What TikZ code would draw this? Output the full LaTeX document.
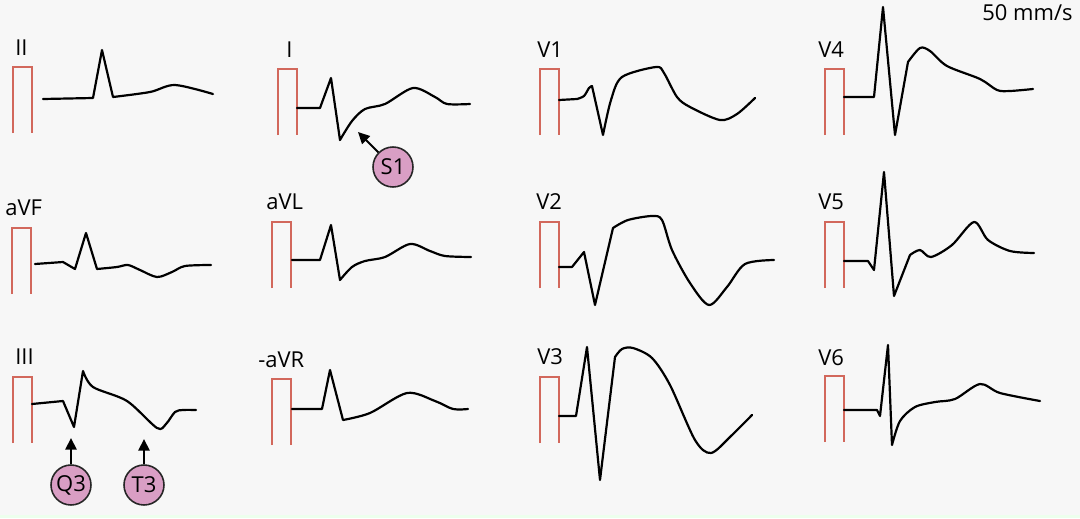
\documentclass[tikz,border=0pt]{standalone}
\usepackage{fontspec}
\setmainfont{Open Sans}
\usetikzlibrary{arrows.meta,positioning}
\definecolor{paper}{HTML}{F7F7F7}
\definecolor{calred}{HTML}{D2685C}
\definecolor{mauve}{HTML}{D99EC4}

\begin{document}
\begin{tikzpicture}[x=0.02cm,y=-0.02cm,
  lead/.style={anchor=base west,inner sep=0pt,font=\fontsize{12.5}{14}\selectfont},
  calbox/.style={calred,line width=0.8pt},
  trace/.style={black,line width=1.25pt,line join=round,line cap=round},
  callout/.style={circle,draw=black!85,line width=0.9pt,fill=mauve,minimum size=0.8cm,inner sep=0pt,font=\fontsize{12.5}{14}\selectfont},
  pointer/.style={-{Triangle[length=2.3mm,width=2.2mm]},line width=1.2pt}]
\fill[paper] (0,0) rectangle (1080,518);
\useasboundingbox (0,0) rectangle (1080,518);
\fill[green!7] (0,515) rectangle (1080,518);
% lead names
\node[lead] (labII)  at (15,55)   {II};
\node[lead] (labI)   at (286,57)  {I};
\node[lead] (labaVF) at (5,215)   {aVF};
\node[lead] (labaVL) at (266,209) {aVL};
\node[lead] (labIII) at (15,364)  {III};
\node[lead] (labaVR) at (258,367) {-aVR};
\node[lead] (labVa)  at (537,57)  {V1};
\node[lead] (labVb)  at (536,209) {V2};
\node[lead] (labVc)  at (537,364) {V3};
\node[lead] (labVd)  at (818,57)  {V4};
\node[lead] (labVe)  at (818,209) {V5};
\node[lead] (labVf)  at (818,365) {V6};
\node[lead,anchor=base east] (speed) at (1073,20) {50 mm/s};
% calibration pulses
\foreach \bx/\by in {13/67,278/69,12/228,272/222,13/377,272/379,540/69,540/222,540/377,825/69,825/222,825/376}{
  \draw[calbox] (\bx,\by+66) -- (\bx,\by) -- (\bx+19,\by) -- (\bx+19,\by+66);
}
% limb leads
\draw[trace] (43,99) -- (93,98) -- (102,50) -- (113,97) -- plot[smooth] coordinates {(113,97) (150,92) (175,85) (213,94)};
\draw[trace] (297,108) -- (320,108) -- (331,78) -- (340,140) -- plot[smooth] coordinates {(340,140) (352,121) (365,109) (385,104) (413,88) (435,97) (447,104) (470,104)};
\draw[trace] (35,264) -- (63,262) -- (75,269) -- (86,233) -- (97,269) -- plot[smooth] coordinates {(97,269) (117,267) (128,265) (140,270) (157,277) (172,272) (185,266) (211,265)};
\draw[trace] (292,260) -- (320,260) -- (331,225) -- (340,280) -- plot[smooth] coordinates {(340,280) (352,267) (365,261) (385,257) (410,244) (430,251) (445,256) (471,257)};
\draw[trace] (32,404) -- (63,401) -- (74,427) -- (83,371) -- plot[smooth] coordinates {(83,371) (93,387) (127,401) (157,428) (166,424) (175,412) (183,410) (196,410)};
\draw[trace] (292,409) -- (322,409) -- (330,370) -- (343,420) -- plot[smooth] coordinates {(343,420) (370,413) (407,393) (435,401) (453,409) (468,409)};
% chest leads
\draw[trace] (559,100) -- (577,99) -- plot[smooth] coordinates {(577,99) (584,96) (589,88) (592,86)} -- (603,135) -- plot[smooth] coordinates {(603,135) (611,100) (622,77) (656,67) (664,73) (677,97) (690,107) (720,120) (737,114) (755,98)};
\draw[trace] (559,267) -- (572,267) -- (584,252) -- (595,305) -- (613,228) -- plot[smooth] coordinates {(613,228) (628,220) (652,216) (662,220) (672,250) (690,283) (709,305) (727,287) (745,264) (774,260)};
\draw[trace] (559,416) -- (576,416) -- (587,347) -- (600,480) -- (615,357) -- plot[smooth] coordinates {(615,357) (622,349) (633,348) (652,358) (670,385) (695,440) (711,453) (731,436) (752,415)};
\draw[trace] (844,97) -- (874,97) -- (883,7) -- (895,135) -- (908,62) -- plot[smooth] coordinates {(908,62) (920,48) (930,51) (947,66) (980,79) (997,90) (1010,91) (1033,89)};
\draw[trace] (844,261) -- (868,261) -- (874,270) -- (884,172) -- (894,296) -- (910,255) -- plot[smooth] coordinates {(910,255) (920,250) (931,257) (952,245) (974,222) (988,240) (1010,251) (1034,253)};
\draw[trace] (844,410) -- (877,410) -- (880,416) -- (888,345) -- (892,445) -- plot[smooth] coordinates {(892,445) (900,421) (915,407) (935,402) (955,399) (980,384) (1000,393) (1040,401)};
% markers
\node[callout] (S1) at (393,167) {S1};
\node[callout] (Q3) at (71,485)  {Q3};
\node[callout] (T3) at (144,485) {T3};
\coordinate (S1tip) at (358,132);
\coordinate (Q3tip) at (71,438);
\coordinate (T3tip) at (144,439);
\draw[pointer] (S1) -- (S1tip);
\draw[pointer] (Q3) -- (Q3tip);
\draw[pointer] (T3) -- (T3tip);
\end{tikzpicture}
\end{document}
